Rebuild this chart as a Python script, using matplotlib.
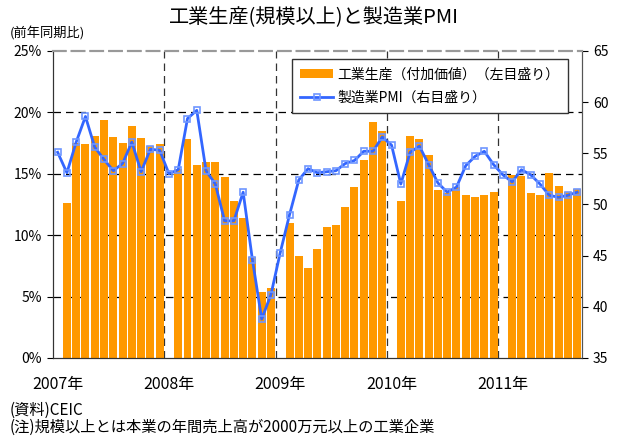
import numpy as np
import matplotlib
matplotlib.use('Agg')
import matplotlib.pyplot as plt

plt.rcParams['font.family'] = ['Noto Sans CJK JP', 'DejaVu Sans']

# monthly data, Jan 2007 - Sep 2011 (Jan values of production not published)
nan = np.nan
ip_2007 = [nan, 12.6, 17.5, 17.4, 18.1, 19.4, 18.0, 17.5, 18.9, 17.9, 17.3, 17.4]
ip_2008 = [nan, 15.4, 17.8, 15.7, 16.0, 16.0, 14.7, 12.8, 11.4, 8.2, 5.4, 5.7]
ip_2009 = [nan, 11.0, 8.3, 7.3, 8.9, 10.7, 10.8, 12.3, 13.9, 16.1, 19.2, 18.5]
ip_2010 = [nan, 12.8, 18.1, 17.8, 16.5, 13.7, 13.4, 13.9, 13.3, 13.1, 13.3, 13.5]
ip_2011 = [nan, 14.9, 14.8, 13.4, 13.3, 15.1, 14.0, 13.5, 13.8]

pmi_2007 = [55.1, 53.1, 56.1, 58.6, 55.6, 54.4, 53.3, 54.0, 56.1, 53.2, 55.4, 55.3]
pmi_2008 = [53.0, 53.4, 58.4, 59.2, 53.3, 52.0, 48.4, 48.4, 51.2, 44.6, 38.8, 41.2]
pmi_2009 = [45.3, 49.0, 52.4, 53.5, 53.1, 53.2, 53.3, 54.0, 54.3, 55.2, 55.2, 56.6]
pmi_2010 = [55.8, 52.0, 55.1, 55.7, 53.9, 52.1, 51.2, 51.7, 53.8, 54.7, 55.2, 53.9]
pmi_2011 = [52.9, 52.2, 53.4, 52.9, 52.0, 50.9, 50.7, 50.9, 51.2]

years = ['2007年', '2008年', '2009年', '2010年', '2011年']

ip = np.array(ip_2007 + ip_2008 + ip_2009 + ip_2010 + ip_2011)
pmi = np.array(pmi_2007 + pmi_2008 + pmi_2009 + pmi_2010 + pmi_2011)
x = np.arange(len(pmi))

fig = plt.figure(figsize=(6.17, 4.37), dpi=100)
ax = fig.add_axes([0.0859, 0.1808, 0.8569, 0.7025])
ax2 = ax.twinx()

ax.bar(x, ip, width=0.86, color='#FF9900', zorder=2, label='工業生産（付加価値）（左目盛り）')
ln, = ax2.plot(x, pmi, color='#3366FF', lw=2, marker='s', ms=5,
               mfc='none', mec='#6E96FF', mew=1.2, label='製造業PMI（右目盛り）')

ax.set_xlim(-0.5, len(x) - 0.5)
ax.set_ylim(0, 25)
ax2.set_ylim(35, 65)
ax.set_yticks(np.arange(0, 26, 5))
ax.set_yticklabels([f'{v}%' for v in range(0, 26, 5)])
ax2.set_yticks(np.arange(35, 66, 5))

# gridlines
for v in [5, 10, 15, 20]:
    ax.axhline(v, color='black', lw=0.9, ls=(0, (6, 4)), zorder=1)
for k in range(1, len(years)):
    ax.axvline(12 * k - 0.5, color='#333333', lw=0.9, ls=(0, (6, 4)), zorder=1)

ax.set_xticks(np.arange(0, len(x), 12))
ax.set_xticklabels(years, fontsize=11.5)
ax.tick_params(axis='x', length=0, pad=13)
ax.tick_params(axis='y', labelsize=10, length=4, pad=4)
ax2.tick_params(axis='y', labelsize=10, length=4, pad=4)

for a in (ax, ax2):
    a.spines['top'].set_linestyle((0, (6, 3)))
    a.spines['top'].set_color('#999999')
    a.spines['top'].set_linewidth(1.5)
    a.spines['left'].set_color('#333333')
    a.spines['right'].set_color('#555555')
    a.spines['bottom'].set_color('#333333')

h1, l1 = ax.get_legend_handles_labels()
h2, l2 = ax2.get_legend_handles_labels()
leg = ax2.legend(h1 + h2, l1 + l2, loc='upper right', bbox_to_anchor=(0.974, 0.974),
                 borderaxespad=0, fancybox=False, framealpha=1, edgecolor='#333333',
                 fontsize=10, handlelength=2.4, handletextpad=0.3, borderpad=0.6,
                 labelspacing=0.7)
leg.get_frame().set_linewidth(1)

fig.text(0.509, 0.959, '工業生産(規模以上)と製造業PMI', ha='center', va='center', fontsize=14.5)
fig.text(0.016, 0.924, '(前年同期比)', ha='left', va='center', fontsize=9.5)
fig.text(0.016, 0.062, '(資料)CEIC', ha='left', va='center', fontsize=11)
fig.text(0.016, 0.021, '(注)規模以上とは本業の年間売上高が2000万元以上の工業企業',
         ha='left', va='center', fontsize=11)

fig.savefig('out.png', dpi=100)
